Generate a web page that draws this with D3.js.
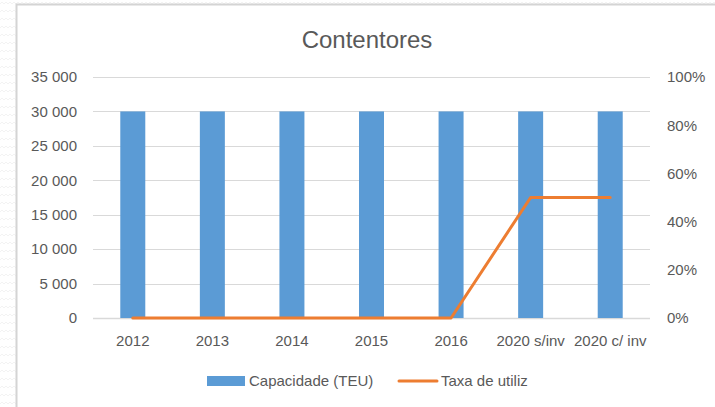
<!DOCTYPE html>
<html>
<head>
<meta charset="utf-8">
<script src="https://cdn.jsdelivr.net/npm/d3@7"></script>
<style>
  html, body { margin: 0; padding: 0; background: #fff; }
  svg text { font-family: "Liberation Sans", Arial, sans-serif; fill: #595959; }
</style>
</head>
<body>
<svg id="chart" width="715" height="407"></svg>
<script>
// data
const categories = ["2012", "2013", "2014", "2015", "2016", "2020 s/inv", "2020 c/ inv"];
const capacidade = [30000, 30000, 30000, 30000, 30000, 30000, 30000];
const taxa = [0, 0, 0, 0, 0, 0.5, 0.5];
const leftTicks = [0, 5000, 10000, 15000, 20000, 25000, 30000, 35000];
const rightTicks = [0, 0.2, 0.4, 0.6, 0.8, 1];

const svg = d3.select("#chart"),
      W = +svg.attr("width"),
      H = +svg.attr("height"),
      margin = {top: 77, right: 65, bottom: 89, left: 93},
      width = W - margin.left - margin.right,
      height = H - margin.top - margin.bottom;

// faint torn-paper zigzag outside the chart frame
const defs = svg.append("defs");
const pat = defs.append("pattern")
  .attr("id", "zig")
  .attr("width", 8).attr("height", 8)
  .attr("patternUnits", "userSpaceOnUse");
pat.append("path")
  .attr("d", "M0 4 L2 2 L4 4 L6 2 L8 4")
  .attr("fill", "none")
  .attr("stroke", "#f3f3f3")
  .attr("stroke-width", 1);
svg.append("rect").attr("width", W).attr("height", H).attr("fill", "url(#zig)");

// chart area frame
svg.append("rect")
  .attr("x", 16.5).attr("y", 4.5)
  .attr("width", W).attr("height", H)
  .attr("fill", "#fff")
  .attr("stroke", "#d4d4d4")
  .attr("stroke-width", 2);

const x = d3.scaleBand().domain(categories).range([0, width]),
      yL = d3.scaleLinear().domain([0, 35000]).range([height, 0]),
      yR = d3.scaleLinear().domain([0, 1]).range([height, 0]);

const g = svg.append("g")
  .attr("transform", `translate(${margin.left}, ${margin.top})`);

// title
svg.append("text")
  .attr("x", 367).attr("y", 48)
  .attr("text-anchor", "middle")
  .style("font-size", "24px")
  .text("Contentores");

// gridlines
g.selectAll("line.grid")
  .data(leftTicks)
  .enter()
  .append("line")
  .attr("class", "grid")
  .attr("x1", 0).attr("x2", width)
  .attr("y1", d => Math.round(yL(d)) + 0.5)
  .attr("y2", d => Math.round(yL(d)) + 0.5)
  .attr("stroke", "#d9d9d9")
  .attr("stroke-width", d => d === 0 ? 1.5 : 1);

// left axis
const fmt = d3.formatLocale({decimal: ",", thousands: " ", grouping: [3], currency: ["", ""]}).format(",d");
g.append("g")
  .call(d3.axisLeft(yL).tickValues(leftTicks).tickFormat(fmt).tickSize(0).tickPadding(16))
  .call(a => a.select(".domain").remove())
  .selectAll("text")
  .style("font-size", "15px");

// right axis
g.append("g")
  .attr("transform", `translate(${width}, 0)`)
  .call(d3.axisRight(yR).tickValues(rightTicks).tickFormat(d3.format(".0%")).tickSize(0).tickPadding(17))
  .call(a => a.select(".domain").remove())
  .selectAll("text")
  .style("font-size", "15px");

// bottom axis
g.append("g")
  .attr("transform", `translate(0, ${height})`)
  .call(d3.axisBottom(x).tickSize(0).tickPadding(17))
  .call(a => a.select(".domain").remove())
  .selectAll("text")
  .style("font-size", "15px");

// bars
const barW = 25;
g.selectAll("rect.bar")
  .data(capacidade)
  .enter()
  .append("rect")
  .attr("class", "bar")
  .attr("x", (d, i) => x(categories[i]) + x.bandwidth() / 2 - barW / 2)
  .attr("y", d => yL(d))
  .attr("width", barW)
  .attr("height", d => height - yL(d))
  .attr("fill", "#5b9bd5");

// utilisation line
const line = d3.line()
  .x((d, i) => x(categories[i]) + x.bandwidth() / 2)
  .y(d => yR(d));
g.append("path")
  .attr("d", line(taxa))
  .attr("fill", "none")
  .attr("stroke", "#ed7d31")
  .attr("stroke-width", 3)
  .attr("stroke-linecap", "round")
  .attr("stroke-linejoin", "round");

// legend
const leg = svg.append("g").attr("transform", "translate(0, 381)");
leg.append("rect")
  .attr("x", 207).attr("y", -5)
  .attr("width", 38).attr("height", 10)
  .attr("fill", "#5b9bd5");
leg.append("text")
  .attr("x", 249).attr("y", 5)
  .style("font-size", "15px")
  .text("Capacidade (TEU)");
leg.append("line")
  .attr("x1", 399).attr("x2", 437)
  .attr("y1", 0).attr("y2", 0)
  .attr("stroke", "#ed7d31")
  .attr("stroke-width", 3)
  .attr("stroke-linecap", "round");
leg.append("text")
  .attr("x", 441).attr("y", 5)
  .style("font-size", "15px")
  .text("Taxa de utiliz");
</script>
</body>
</html>
